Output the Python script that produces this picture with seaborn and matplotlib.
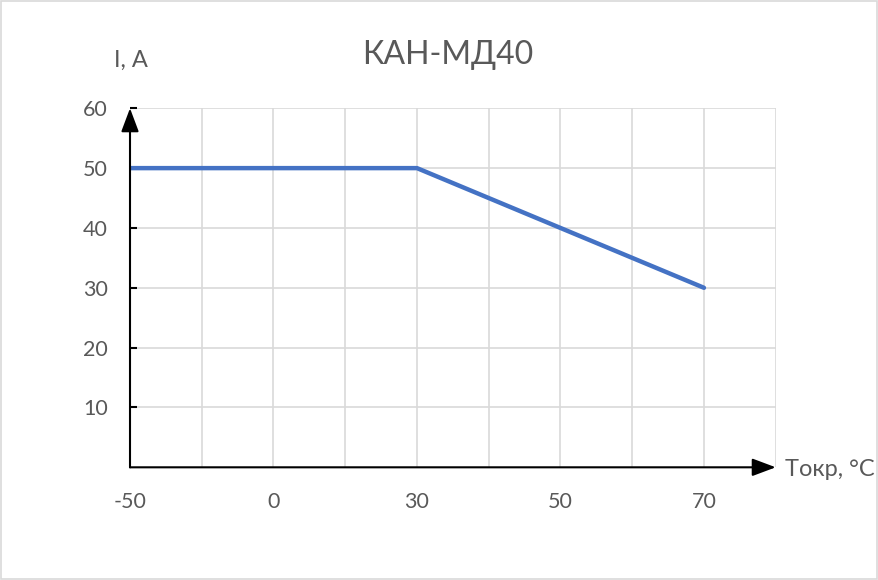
import numpy as np
import pandas as pd
import matplotlib
matplotlib.use("Agg")
import matplotlib.pyplot as plt
import seaborn as sns
from matplotlib.patches import Rectangle

# данные
temps = [-50, 0, 30, 50, 70]
currents = [50, 50, 50, 40, 30]
y_ticks = [10, 20, 30, 40, 50, 60]

df = pd.DataFrame({"pos": np.arange(len(temps)) * 2, "I": currents})

sns.set_theme(style="white")
plt.rcParams["font.family"] = ["Lato", "DejaVu Sans"]
gray = "#595959"

fig = plt.figure(figsize=(8.79, 5.8), dpi=100)
ax = fig.add_axes([0.1479, 0.1943, 0.8825 - 0.1479, 0.8133 - 0.1943])

sns.lineplot(data=df, x="pos", y="I", ax=ax, color="#4472C4", lw=3.2)

ax.set_xlim(0, 9)
ax.set_ylim(0, 60)
ax.set_xticks(np.arange(0, 10))
ax.set_xticklabels([str(temps[i // 2]) if i % 2 == 0 and i // 2 < len(temps) else ""
                    for i in range(10)])
ax.set_yticks(y_ticks)
ax.grid(True, color="#D9D9D9", lw=1.2)
ax.set_xlabel("")
ax.set_ylabel("")

for s in ["top", "right", "left", "bottom"]:
    ax.spines[s].set_visible(False)

ax.tick_params(axis="y", direction="in", length=5, width=1.5, color="black",
               labelsize=15.5, labelcolor=gray, pad=16, left=True)
ax.tick_params(axis="x", length=0, labelsize=15.5, labelcolor=gray, pad=18)

# оси со стрелками
arrow = dict(arrowstyle="-|>,head_length=1.2,head_width=0.45",
             color="black", lw=1.5, shrinkA=0, shrinkB=0)
ax.annotate("", xy=(0, 1.0), xytext=(0, 0), xycoords="axes fraction",
            arrowprops=arrow, annotation_clip=False)
ax.annotate("", xy=(1.0, 0), xytext=(0, 0), xycoords="axes fraction",
            arrowprops=arrow, annotation_clip=False)

fig.text(448 / 879, 1 - 55 / 580, "КАН-МД40", ha="center", va="center",
         fontsize=23, color=gray)
fig.text(131 / 879, 1 - 60 / 580, "I, A", ha="center", va="center",
         fontsize=17, color=gray)
fig.text(785 / 879, 1 - 470 / 580, "Токр, °C", ha="left", va="center",
         fontsize=17, color=gray)

fig.patches.append(Rectangle((0.001, 0.001), 0.997, 0.997, transform=fig.transFigure,
                             fill=False, edgecolor="#D9D9D9", lw=1.2))

fig.savefig("out.png", dpi=100)
